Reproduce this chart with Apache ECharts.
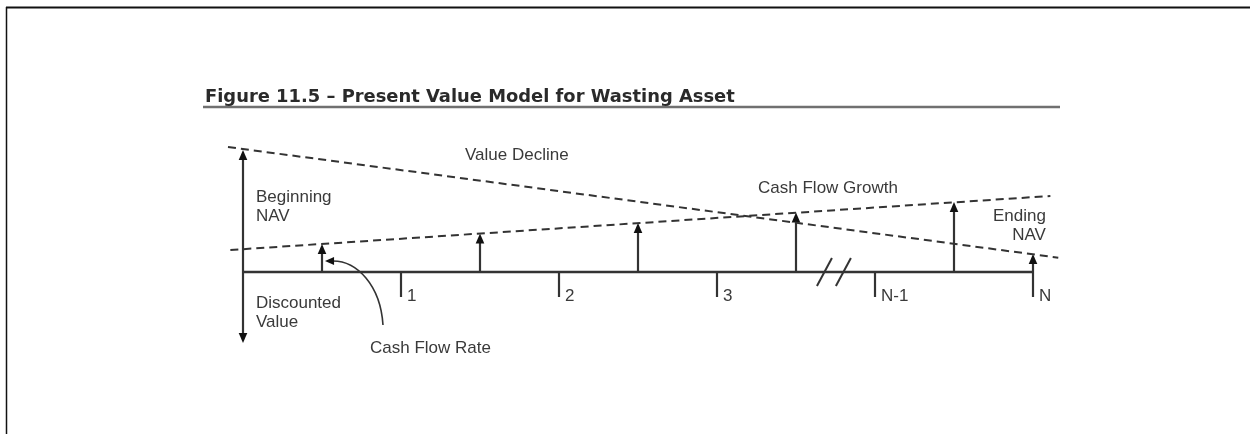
<!DOCTYPE html>
<html>
<head>
<meta charset="utf-8">
<script src="https://cdn.jsdelivr.net/npm/echarts@6/dist/echarts.min.js"></script>
<style>
html,body{margin:0;padding:0;background:#fff;}
#chart{width:1250px;height:434px;}
</style>
</head>
<body>
<div id="chart"></div>
<script>
// ---- data (time in periods, value in arbitrary units) ----
const titleText = 'Figure 11.5 \u2013 Present Value Model for Wasting Asset';
const timelinePositions = [1, 2, 3, 4, 5];
const timelineLabels = ['1', '2', '3', 'N-1', 'N'];
const timelineEnd = 5;
const cashFlowPositions = [0.5, 1.5, 2.5, 3.5, 4.5];
const cashFlowValues = [2.8, 3.85, 4.9, 5.95, 7.0];
const beginningNAV = 12.2;
const endingNAV = 1.8;
const discountedValue = -7.1;
const valueDecline = [[-0.095, 12.5], [5.16, 1.43]];
const cashFlowGrowth = [[-0.08, 2.2], [5.11, 7.6]];
const breakPositions = [3.68, 3.80];
const annotationTexts = ['Value Decline', 'Cash Flow Growth', 'Beginning\nNAV', 'Discounted\nValue', 'Ending\nNAV', 'Cash Flow Rate'];
const annotationX = [1.405, 3.26, 0.082, 0.082, 5.082, 0.804];
const annotationY = [11.7, 8.4, 6.5, -4.1, 4.6, -7.6];
const rateCurve = [[0.886, -5.3], [0.87, -1.3], [0.72, 1.1], [0.57, 1.1]];
const rateCurveTip = [0.519, 1.1];

// ---- styling ----
const INK = '#333333';
const TEXT = '#3a3a3a';
const FONT = '"Liberation Sans", Arial, sans-serif';
const annotationAlign = ['left', 'left', 'left', 'left', 'right', 'left'];

const arrowData = [[0, 0, beginningNAV], [0, 0, discountedValue]]
  .concat(cashFlowPositions.map((x, i) => [x, 0, cashFlowValues[i]]))
  .concat([[timelineEnd, 0, endingNAV]]);

function arrowItem(params, api) {
  const p0 = api.coord([api.value(0), api.value(1)]);
  const p1 = api.coord([api.value(0), api.value(2)]);
  const s = p1[1] < p0[1] ? 1 : -1; // 1 -> pointing up
  const L = 10, W = 4.3;
  return {
    type: 'group',
    children: [
      { type: 'line', shape: { x1: p0[0], y1: p0[1], x2: p1[0], y2: p1[1] + s * (L - 1) },
        style: { stroke: INK, lineWidth: 2.2 } },
      { type: 'polygon', shape: { points: [[p1[0], p1[1]], [p1[0] - W, p1[1] + s * L], [p1[0] + W, p1[1] + s * L]] },
        style: { fill: '#111' } }
    ]
  };
}

function tickItem(params, api) {
  const x = api.value(0);
  const p0 = api.coord([x, 0]);
  const p1 = api.coord([x, -2.5]);
  return {
    type: 'group',
    children: [
      { type: 'line', shape: { x1: p0[0], y1: p0[1], x2: p1[0], y2: p1[1] },
        style: { stroke: INK, lineWidth: 2.2 } },
      { type: 'text', x: p1[0] + 6, y: p1[1] - 0.5,
        style: { text: timelineLabels[params.dataIndex], fill: TEXT, fontSize: 17, fontFamily: FONT,
                 align: 'left', verticalAlign: 'middle' } }
    ]
  };
}

function breakItem(params, api) {
  const x = api.value(0);
  const a = api.coord([x - 0.0475, -1.4]);
  const b = api.coord([x + 0.0475, 1.4]);
  return { type: 'line', shape: { x1: a[0], y1: a[1], x2: b[0], y2: b[1] },
           style: { stroke: INK, lineWidth: 2 } };
}

function annotationItem(params, api) {
  const p = api.coord([api.value(0), api.value(1)]);
  return { type: 'text', x: p[0], y: p[1],
           style: { text: annotationTexts[params.dataIndex], fill: TEXT, fontSize: 17, fontFamily: FONT,
                    lineHeight: 19.5, align: annotationAlign[params.dataIndex], verticalAlign: 'middle' } };
}

function curveItem(params, api) {
  const c = rateCurve.map(p => api.coord(p));
  const t = api.coord(rateCurveTip);
  const W = 4;
  return {
    type: 'group',
    children: [
      { type: 'bezierCurve', shape: { x1: c[0][0], y1: c[0][1], cpx1: c[1][0], cpy1: c[1][1],
          cpx2: c[2][0], cpy2: c[2][1], x2: c[3][0], y2: c[3][1] },
        style: { stroke: INK, lineWidth: 1.6, fill: null } },
      { type: 'polygon', shape: { points: [[t[0], t[1]], [c[3][0] + 1, c[3][1] - W], [c[3][0] + 1, c[3][1] + W]] },
        style: { fill: '#111' } }
    ]
  };
}

const chart = echarts.init(document.getElementById('chart'), null, { renderer: 'canvas' });
chart.setOption({
  animation: false,
  backgroundColor: '#ffffff',
  title: {
    text: titleText, left: 200, top: 83,
    textStyle: { fontFamily: '"DejaVu Sans", sans-serif', fontWeight: 'bold', fontSize: 17.9, color: '#2a2a2a' }
  },
  graphic: [
    { type: 'line', shape: { x1: 6, y1: 7.5, x2: 1250, y2: 7.5 }, style: { stroke: '#111', lineWidth: 2 } },
    { type: 'line', shape: { x1: 6.5, y1: 7, x2: 6.5, y2: 434 }, style: { stroke: '#111', lineWidth: 1.5 } },
    { type: 'line', shape: { x1: 203, y1: 107, x2: 1060, y2: 107 }, style: { stroke: '#707070', lineWidth: 2.5 } }
  ],
  grid: { left: 164, width: 948, top: 132, height: 240, containLabel: false },
  xAxis: { type: 'value', min: -0.5, max: 5.5, show: false },
  yAxis: { type: 'value', min: -10, max: 14, show: false },
  series: [
    { type: 'line', data: valueDecline, symbol: 'none', clip: false, silent: true,
      lineStyle: { color: INK, width: 2, type: [8, 5] } },
    { type: 'line', data: cashFlowGrowth, symbol: 'none', clip: false, silent: true,
      lineStyle: { color: INK, width: 2, type: [8, 5] } },
    { type: 'line', data: [[0, 0], [timelineEnd, 0]], symbol: 'none', clip: false, silent: true,
      lineStyle: { color: INK, width: 2.4 } },
    { type: 'custom', renderItem: arrowItem, data: arrowData, encode: { x: 0, y: [1, 2] }, silent: true },
    { type: 'custom', renderItem: tickItem, data: timelinePositions.map(x => [x, 0]), encode: { x: 0, y: 1 }, silent: true },
    { type: 'custom', renderItem: breakItem, data: breakPositions.map(x => [x, 0]), encode: { x: 0, y: 1 }, silent: true },
    { type: 'custom', renderItem: annotationItem, data: annotationX.map((x, i) => [x, annotationY[i]]), encode: { x: 0, y: 1 }, silent: true },
    { type: 'custom', renderItem: curveItem, data: [[0, 0]], encode: { x: 0, y: 1 }, silent: true }
  ]
});
</script>
</body>
</html>
